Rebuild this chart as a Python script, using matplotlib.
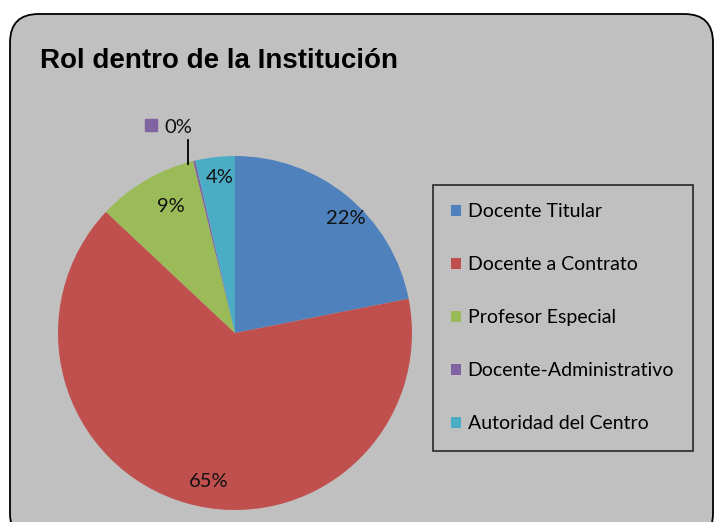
import numpy as np
import matplotlib
matplotlib.use("Agg")
import matplotlib.pyplot as plt
from matplotlib.patches import FancyBboxPatch, Patch

# data
categories = ["Docente Titular", "Docente a Contrato", "Profesor Especial",
              "Docente-Administrativo", "Autoridad del Centro"]
shares = [21.9, 65.1, 9.2, 0.2, 3.6]
colors = ["#4F81BD", "#C0504D", "#9BBB59", "#8064A2", "#4BACC6"]
title = "Rol dentro de la Institución"

W, H = 716, 522
fig = plt.figure(figsize=(W / 100, H / 100), dpi=100)
fig.patch.set_facecolor("white")

# rounded gray chart area
bg = FancyBboxPatch((10 / W, -20 / H), (703 / W), (528 / H),
                    boxstyle="round,pad=0,rounding_size=0.04",
                    transform=fig.transFigure, facecolor="#C0C0C0",
                    edgecolor="black", linewidth=1.3, mutation_aspect=W / H,
                    zorder=-10)
fig.patches.append(bg)

fig.text(40 / W, 1 - 61 / H, title, fontsize=20, fontweight="bold",
         family="Liberation Sans", va="center", ha="left")

cx, cy, R = 235, 333, 177
ax = fig.add_axes([(cx - R) / W, (H - cy - R) / H, 2 * R / W, 2 * R / H])
ax.set_axis_off()
ax.patch.set_visible(False)

wedges, texts, autotexts = ax.pie(shares, colors=colors, startangle=90,
                                  counterclock=False, autopct="%.0f%%",
                                  pctdistance=0.85, radius=1,
                                  wedgeprops=dict(linewidth=0),
                                  textprops=dict(fontsize=14.5, family="Lato",
                                                 color="#111111"))
ax.set_xlim(-1, 1)
ax.set_ylim(-1, 1)

# nudge the inside labels the way the original sits them
shift_deg = [-4.5, 6.0, -3.5, 0.0, -1.0]
dist = [0.9, 0.85, 0.8, 0.85, 0.88]
for i, (w, t) in enumerate(zip(wedges, autotexts)):
    if i == 3:
        continue
    a = np.deg2rad((w.theta1 + w.theta2) / 2 + shift_deg[i])
    t.set_position((dist[i] * np.cos(a), dist[i] * np.sin(a)))

# the 0% slice gets its label outside with a leader line
w = wedges[3]
ang = np.deg2rad((w.theta1 + w.theta2) / 2)
x0, y0 = np.cos(ang), np.sin(ang)
ax.plot([x0 - 0.035, x0 - 0.035], [y0 - 0.02, 1.09], color="black", lw=1.3,
        clip_on=False)
autotexts[3].set_position((x0 - 0.09, 1.16))
autotexts[3].set_ha("center")
ax.plot([x0 - 0.245], [1.175], marker="s", markersize=8, color=colors[3],
        clip_on=False, linestyle="none")

handles = [Patch(facecolor=c, edgecolor="none") for c in colors]
leg = fig.legend(handles, categories, loc="upper left",
                 bbox_to_anchor=(433 / W, 1 - 185 / H), borderaxespad=0,
                 frameon=True, fancybox=False,
                 prop=dict(family="Lato", size=14),
                 handlelength=0.48, handleheight=0.48, handletextpad=0.35,
                 labelspacing=1.85, borderpad=0.95)
leg.get_frame().set_edgecolor("black")
leg.get_frame().set_linewidth(1.2)
leg.get_frame().set_facecolor("#C0C0C0")

fig.savefig("out.png", dpi=100, facecolor="white")
